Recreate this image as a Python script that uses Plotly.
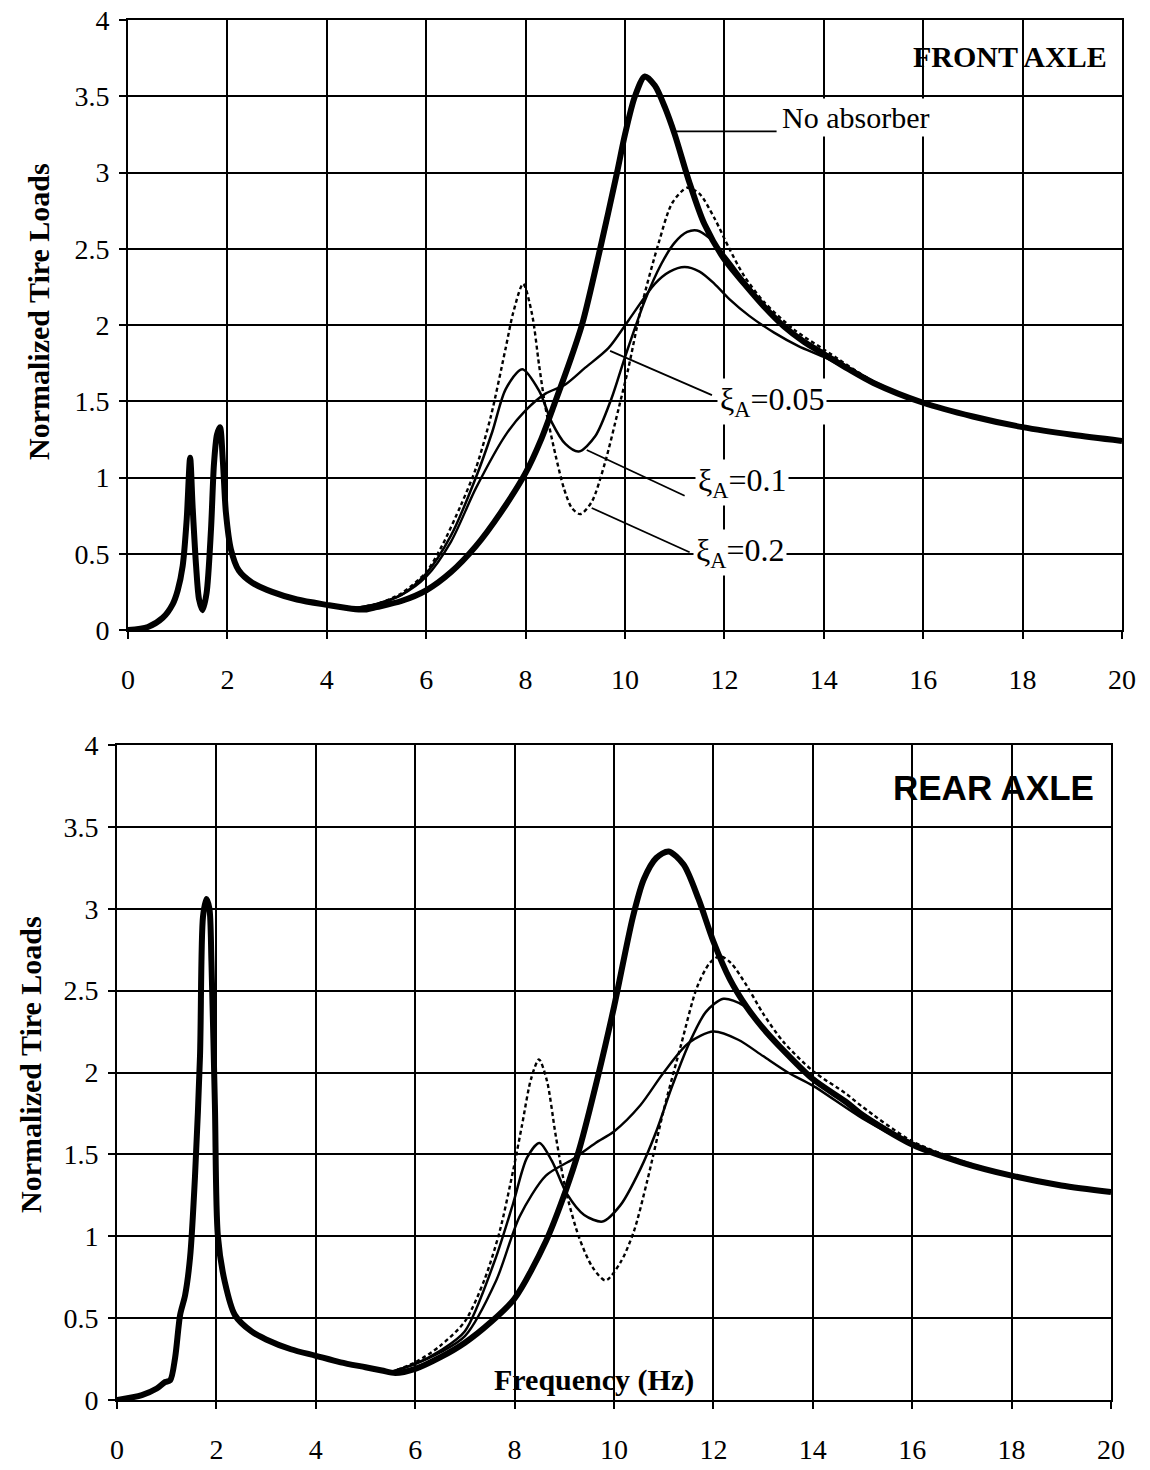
import plotly.graph_objects as go

# ---------------- DATA ----------------
x_ticks = [0, 2, 4, 6, 8, 10, 12, 14, 16, 18, 20]
y_ticks = [0, 0.5, 1, 1.5, 2, 2.5, 3, 3.5, 4]

# FRONT AXLE
front_none_x = [0, 0.4, 0.7, 0.9, 1.0, 1.1, 1.18, 1.25, 1.3, 1.37, 1.43, 1.5, 1.58, 1.67, 1.73, 1.79, 1.85,
                1.91, 1.97, 2.07, 2.23, 2.5, 2.9, 3.4, 4.0, 4.5, 4.8, 5.0, 5.5, 6.0, 6.5, 7.0, 7.5, 8.0, 8.3,
                8.6, 8.9, 9.15, 9.5, 9.84, 10.0, 10.2, 10.4, 10.6, 10.8, 11.0, 11.3, 11.6, 12.0, 12.4, 12.8,
                13.2, 13.6, 14.0, 14.5, 15.0, 16.0, 17.0, 18.0, 19.0, 20.0]
front_none_y = [0, 0.02, 0.08, 0.17, 0.26, 0.42, 0.72, 1.13, 0.81, 0.42, 0.2, 0.13, 0.24, 0.66, 1.09, 1.28, 1.33,
                1.1, 0.77, 0.53, 0.39, 0.31, 0.25, 0.2, 0.165, 0.14, 0.135, 0.15, 0.19, 0.26, 0.38, 0.55, 0.77, 1.03, 1.24,
                1.5, 1.77, 2.02, 2.5, 3.0, 3.25, 3.5, 3.63, 3.57, 3.43, 3.25, 2.93, 2.66, 2.43, 2.27, 2.12,
                1.99, 1.89, 1.81, 1.71, 1.62, 1.49, 1.4, 1.33, 1.28, 1.24]

front_x005 = [4.5, 5.0, 5.5, 6.0, 6.5, 7.0, 7.6, 8.0, 8.4, 8.8, 9.2, 9.67, 10.07, 10.6, 10.9, 11.2, 11.5,
              11.8, 12.1, 12.5, 13.0, 13.5, 14.0, 15.0, 16.0, 17.0, 18.0, 19.0, 20.0]
front_y005 = [0.14, 0.17, 0.23, 0.35, 0.58, 0.93, 1.28, 1.44, 1.55, 1.61, 1.72, 1.85, 2.03, 2.27, 2.35, 2.38, 2.35,
              2.27, 2.17, 2.06, 1.95, 1.86, 1.79, 1.62, 1.49, 1.4, 1.33, 1.28, 1.24]

front_x01 = [4.5, 5.0, 5.5, 6.0, 6.5, 7.0, 7.33, 7.6, 7.93, 8.27, 8.53, 8.8, 9.07, 9.4, 9.73, 10.0, 10.4, 10.73,
             11.0, 11.25, 11.45, 11.7, 12.0, 12.4, 12.8, 13.2, 13.6, 14.0, 15.0, 16.0, 17.0, 18.0, 19.0, 20.0]
front_y01 = [0.14, 0.17, 0.23, 0.37, 0.62, 1.0, 1.3, 1.58, 1.71, 1.57, 1.36, 1.22, 1.17, 1.27, 1.52, 1.79, 2.16, 2.4,
             2.54, 2.61, 2.62, 2.57, 2.46, 2.29, 2.13, 2.0, 1.9, 1.82, 1.63, 1.49, 1.4, 1.33, 1.28, 1.24]

front_x02 = [4.5, 5.0, 5.5, 6.0, 6.33, 6.7, 7.0, 7.3, 7.6, 7.75, 7.95, 8.13, 8.27, 8.4, 8.6, 8.77, 8.93, 9.1,
             9.33, 9.6, 9.87, 10.07, 10.33, 10.67, 10.95, 11.25, 11.5, 11.8, 12.1, 12.4, 12.8, 13.4, 14.0,
             15.0, 16.0, 17.0, 18.0, 19.0, 20.0]
front_y02 = [0.14, 0.17, 0.24, 0.38, 0.56, 0.82, 1.06, 1.4, 1.85, 2.08, 2.27, 2.07, 1.74, 1.46, 1.15, 0.93, 0.8, 0.76,
             0.84, 1.1, 1.45, 1.72, 2.12, 2.53, 2.8, 2.9, 2.86, 2.7, 2.5, 2.32, 2.15, 1.97, 1.84,
             1.63, 1.49, 1.4, 1.33, 1.28, 1.24]

# REAR AXLE
rear_none_x = [0, 0.5, 0.8, 0.97, 1.07, 1.17, 1.27, 1.37, 1.47, 1.57, 1.67, 1.73, 1.8, 1.86, 1.9, 1.97, 2.03,
               2.17, 2.37, 2.7, 3.0, 3.5, 4.0, 4.5, 5.0, 5.33, 5.6, 6.0, 6.5, 7.0, 7.5, 8.0, 8.63, 9.03, 9.3,
               9.68, 10.0, 10.38, 10.6, 10.85, 11.1, 11.4, 11.7, 12.0, 12.33, 12.67, 13.0, 13.33, 14.0,
               14.67, 15.0, 16.0, 17.0, 18.0, 19.0, 20.0]
rear_none_y = [0, 0.03, 0.07, 0.11, 0.12, 0.26, 0.52, 0.64, 0.87, 1.37, 2.1, 2.95, 3.06, 3.0, 2.68, 1.8, 1.0,
               0.72, 0.52, 0.42, 0.37, 0.31, 0.27, 0.23, 0.2, 0.18, 0.165, 0.19, 0.26, 0.35, 0.47, 0.62, 0.97, 1.28, 1.53,
               1.98, 2.4, 2.95, 3.18, 3.31, 3.35, 3.27, 3.06, 2.8, 2.57, 2.4, 2.27, 2.16, 1.96,
               1.82, 1.74, 1.56, 1.45, 1.37, 1.31, 1.27]

rear_x005 = [5.5, 6.0, 6.5, 7.0, 7.63, 8.1, 8.63, 9.17, 9.63, 10.0, 10.53, 11.0, 11.5, 12.0, 12.5, 13.0, 13.5,
             14.0, 15.0, 16.0, 17.0, 18.0, 19.0, 20.0]
rear_y005 = [0.17, 0.22, 0.29, 0.39, 0.73, 1.12, 1.37, 1.47, 1.57, 1.64, 1.8, 2.0, 2.18, 2.25, 2.2, 2.1, 2.0,
             1.92, 1.72, 1.56, 1.45, 1.37, 1.31, 1.27]

rear_x01 = [5.5, 6.0, 6.5, 7.0, 7.6, 7.97, 8.25, 8.5, 8.75, 9.05, 9.4, 9.77, 10.13, 10.53, 10.85, 11.15, 11.5,
            11.85, 12.2, 12.6, 13.0, 13.4, 14.0, 15.0, 16.0, 17.0, 18.0, 19.0, 20.0]
rear_y01 = [0.17, 0.22, 0.3, 0.42, 0.85, 1.2, 1.48, 1.57, 1.46, 1.26, 1.13, 1.09, 1.19, 1.41, 1.64, 1.9, 2.17,
            2.37, 2.45, 2.41, 2.27, 2.13, 1.97, 1.75, 1.57, 1.45, 1.37, 1.31, 1.27]

rear_x02 = [5.5, 6.0, 6.5, 7.0, 7.4, 7.7, 7.97, 8.15, 8.33, 8.49, 8.65, 8.83, 9.03, 9.3, 9.57, 9.83, 10.13, 10.4,
            10.67, 11.0, 11.35, 11.67, 11.93, 12.13, 12.35, 12.67, 13.0, 13.4, 14.0, 14.67, 15.0, 16.0, 17.0,
            18.0, 19.0, 20.0]
rear_y02 = [0.17, 0.23, 0.33, 0.48, 0.74, 1.03, 1.4, 1.68, 1.96, 2.08, 1.95, 1.61, 1.28, 0.99, 0.81, 0.73, 0.84, 1.03,
            1.34, 1.77, 2.17, 2.52, 2.67, 2.71, 2.67, 2.53, 2.36, 2.19, 2.01, 1.87, 1.79, 1.58, 1.46,
            1.37, 1.31, 1.27]

# ---------------- FIGURE ----------------
W, H = 1150, 1470
SERIF = "Liberation Serif, Times New Roman, serif"
SANS = "Liberation Sans, Arial, sans-serif"

fig = go.Figure()

def add_series(x, y, xa, ya, width, dash=None):
    fig.add_trace(go.Scatter(
        x=x, y=y, xaxis=xa, yaxis=ya, mode="lines",
        line=dict(color="black", width=width, dash=dash, shape="spline", smoothing=0.8),
        showlegend=False, hoverinfo="skip"))

# front
add_series(front_x005, front_y005, "x", "y", 2.4)
add_series(front_x01, front_y01, "x", "y", 2.5)
add_series(front_x02, front_y02, "x", "y", 2.4, "4px,3px")
add_series(front_none_x, front_none_y, "x", "y", 6)
# rear
add_series(rear_x005, rear_y005, "x2", "y2", 2.4)
add_series(rear_x01, rear_y01, "x2", "y2", 2.5)
add_series(rear_x02, rear_y02, "x2", "y2", 2.4, "4px,3px")
add_series(rear_none_x, rear_none_y, "x2", "y2", 6)

axis_common = dict(
    showgrid=True, gridcolor="black", gridwidth=1.6,
    showline=True, linecolor="black", linewidth=2, mirror=True,
    ticks="outside", ticklen=7, tickwidth=1.6, tickcolor="black",
    tickfont=dict(family=SERIF, size=28, color="black"),
    zeroline=False, fixedrange=True, automargin=False,
)

fig.update_layout(
    width=W, height=H,
    margin=dict(l=0, r=0, t=0, b=0, autoexpand=False),
    paper_bgcolor="white", plot_bgcolor="white",
    showlegend=False,
    xaxis=dict(domain=[128 / W, 1122 / W], range=[0, 20], tickvals=x_ticks, anchor="y",
               ticklabelstandoff=16, **axis_common),
    yaxis=dict(domain=[1 - 630 / H, 1 - 20 / H], range=[0, 4], tickvals=y_ticks, anchor="x",
               ticklabelstandoff=4, **axis_common),
    xaxis2=dict(domain=[117 / W, 1111 / W], range=[0, 20], tickvals=x_ticks, anchor="y2",
                ticklabelstandoff=16, **axis_common),
    yaxis2=dict(domain=[1 - 1400 / H, 1 - 745 / H], range=[0, 4], tickvals=y_ticks, anchor="x2",
                ticklabelstandoff=4, **axis_common),
)

ann = []
# y-axis titles
ann.append(dict(text="<b>Normalized Tire Loads</b>", textangle=-90, xref="paper", yref="paper",
                x=38 / W, y=1 - 312 / H, xanchor="center", yanchor="middle", showarrow=False,
                font=dict(family=SERIF, size=30, color="black")))
ann.append(dict(text="<b>Normalized Tire Loads</b>", textangle=-90, xref="paper", yref="paper",
                x=30 / W, y=1 - 1065 / H, xanchor="center", yanchor="middle", showarrow=False,
                font=dict(family=SERIF, size=30, color="black")))
# panel titles
ann.append(dict(text="<b>FRONT AXLE</b>", xref="x", yref="y", x=17.75, y=3.76, showarrow=False,
                font=dict(family=SERIF, size=30, color="black")))
ann.append(dict(text="<b>REAR AXLE</b>", xref="x2", yref="y2", x=17.63, y=3.74, showarrow=False,
                font=dict(family=SANS, size=35, color="black")))
ann.append(dict(text="<b>Frequency (Hz)</b>", xref="x2", yref="y2", x=9.6, y=0.12, showarrow=False,
                font=dict(family=SERIF, size=30, color="black")))
# curve labels
ann.append(dict(text="No absorber", xref="x", yref="y", x=13.1, y=3.36, xanchor="left", yanchor="middle",
                showarrow=False, bgcolor="white", borderpad=2,
                font=dict(family=SERIF, size=30, color="black")))
for txt, lx, ly in [("0.05", 11.85, 1.5), ("0.1", 11.41, 0.97), ("0.2", 11.37, 0.505)]:
    ann.append(dict(text="\u03be<sub>A</sub>=" + txt, xref="x", yref="y", x=lx, y=ly,
                    xanchor="left", yanchor="middle", showarrow=False, bgcolor="white", borderpad=2,
                    font=dict(family=SERIF, size=32, color="black")))
fig.update_layout(annotations=ann)

# leader lines
leaders = [((10.98, 3.27), (13.05, 3.27)),
           ((9.70, 1.83), (11.75, 1.54)),
           ((9.23, 1.18), (11.2, 0.88)),
           ((9.33, 0.8), (11.3, 0.51))]
for (x0, y0), (x1, y1) in leaders:
    fig.add_shape(type="line", xref="x", yref="y", x0=x0, y0=y0, x1=x1, y1=y1,
                  line=dict(color="black", width=1.8))

fig.write_html("out.html")
